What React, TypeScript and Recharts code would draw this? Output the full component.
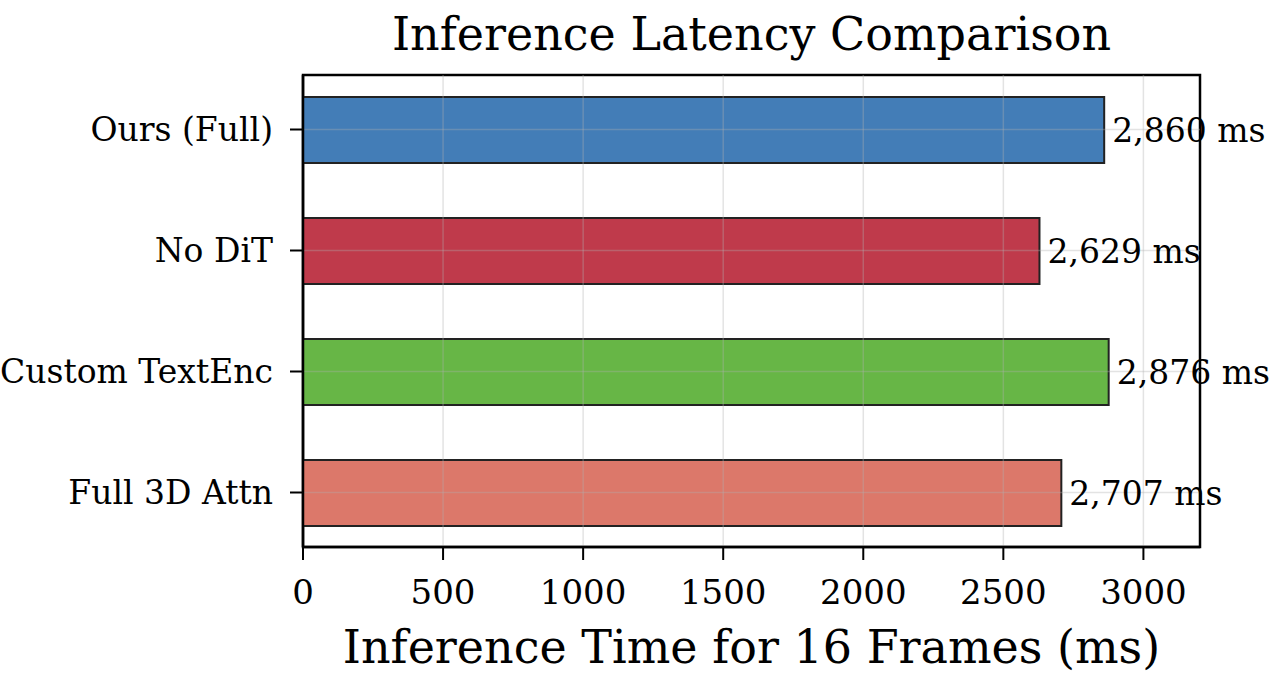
import React from 'react';
import {
  BarChart,
  Bar,
  XAxis,
  YAxis,
  ReferenceLine,
  LabelList,
  Cell,
  usePlotArea,
} from 'recharts';

// Inference latency for 16 frames (ms)
const methods = ['Ours (Full)', 'No DiT', 'Custom TextEnc', 'Full 3D Attn'];
const latencyMs = [2860, 2629, 2876, 2707];
const barColors = ['#437db7', '#bf3a4b', '#67b646', '#dc786a'];
const xTicks = [0, 500, 1000, 1500, 2000, 2500, 3000];

const FONT = '"DejaVu Serif", serif';
const GRID = 'rgba(176,176,176,0.35)';

const data = methods.map((name, i) => ({ name, latency: latencyMs[i] }));

const XTick = (props: any) => {
  const { x, y, payload } = props;
  return (
    <text x={x} y={y + 42} textAnchor="middle" fontFamily={FONT} fontSize={34} fill="#000">
      {payload.value}
    </text>
  );
};

const YTick = (props: any) => {
  const { x, y, payload } = props;
  return (
    <text x={x - 15} y={y + 11} textAnchor="end" fontFamily={FONT} fontSize={33} fill="#000">
      {payload.value}
    </text>
  );
};

// axes box (top and right spines) drawn from the chart's plot area
const Frame = () => {
  const area = usePlotArea();
  if (!area) return null;
  return (
    <rect
      x={area.x}
      y={area.y}
      width={area.width}
      height={area.height}
      fill="none"
      stroke="#000"
      strokeWidth={2.5}
    />
  );
};

export default function App() {
  return (
    <div style={{ position: 'absolute', left: 0, top: 0, width: 1287, height: 689, background: '#fff' }}>
      <div
        style={{
          position: 'absolute',
          left: 0,
          top: 4,
          width: 1287,
          textAlign: 'center',
          paddingLeft: 216,
          boxSizing: 'border-box',
          fontFamily: FONT,
          fontSize: 46,
          lineHeight: '60px',
        }}
      >
        Inference Latency Comparison
      </div>
      <BarChart
        width={1287}
        height={689}
        data={data}
        layout="vertical"
        margin={{ top: 75, right: 87, left: 0, bottom: 0 }}
        barCategoryGap={0}
      >
        <XAxis
          type="number"
          domain={[0, 3202]}
          ticks={xTicks}
          allowDataOverflow
          height={142}
          axisLine={{ stroke: '#000', strokeWidth: 2.5 }}
          tickLine={{ stroke: '#000', strokeWidth: 2 }}
          tickSize={13}
          tick={<XTick />}
          label={{
            value: 'Inference Time for 16 Frames (ms)',
            position: 'insideBottom',
            offset: 26,
            fontFamily: FONT,
            fontSize: 46,
            fill: '#000',
          }}
        />
        <YAxis
          type="category"
          dataKey="name"
          width={303}
          padding={{ top: -6, bottom: -6 }}
          axisLine={{ stroke: '#000', strokeWidth: 2.5 }}
          tickLine={{ stroke: '#000', strokeWidth: 2 }}
          tickSize={13}
          tick={<YTick />}
        />
        <Bar dataKey="latency" barSize={66} stroke="#222" strokeWidth={2} isAnimationActive={false}>
          {data.map((d, i) => (
            <Cell key={d.name} fill={barColors[i]} />
          ))}
          <LabelList
            dataKey="latency"
            position="right"
            offset={8}
            formatter={(v: any) => `${Number(v).toLocaleString('en-US')} ms`}
            style={{ fontFamily: FONT, fontSize: 33, fill: '#000' }}
          />
        </Bar>
        {xTicks.slice(1).map((t) => (
          <ReferenceLine key={`vx-${t}`} x={t} stroke={GRID} strokeWidth={1.5} />
        ))}
        {methods.map((m) => (
          <ReferenceLine key={`hy-${m}`} y={m} stroke={GRID} strokeWidth={1.5} />
        ))}
        <Frame />
      </BarChart>
    </div>
  );
}
